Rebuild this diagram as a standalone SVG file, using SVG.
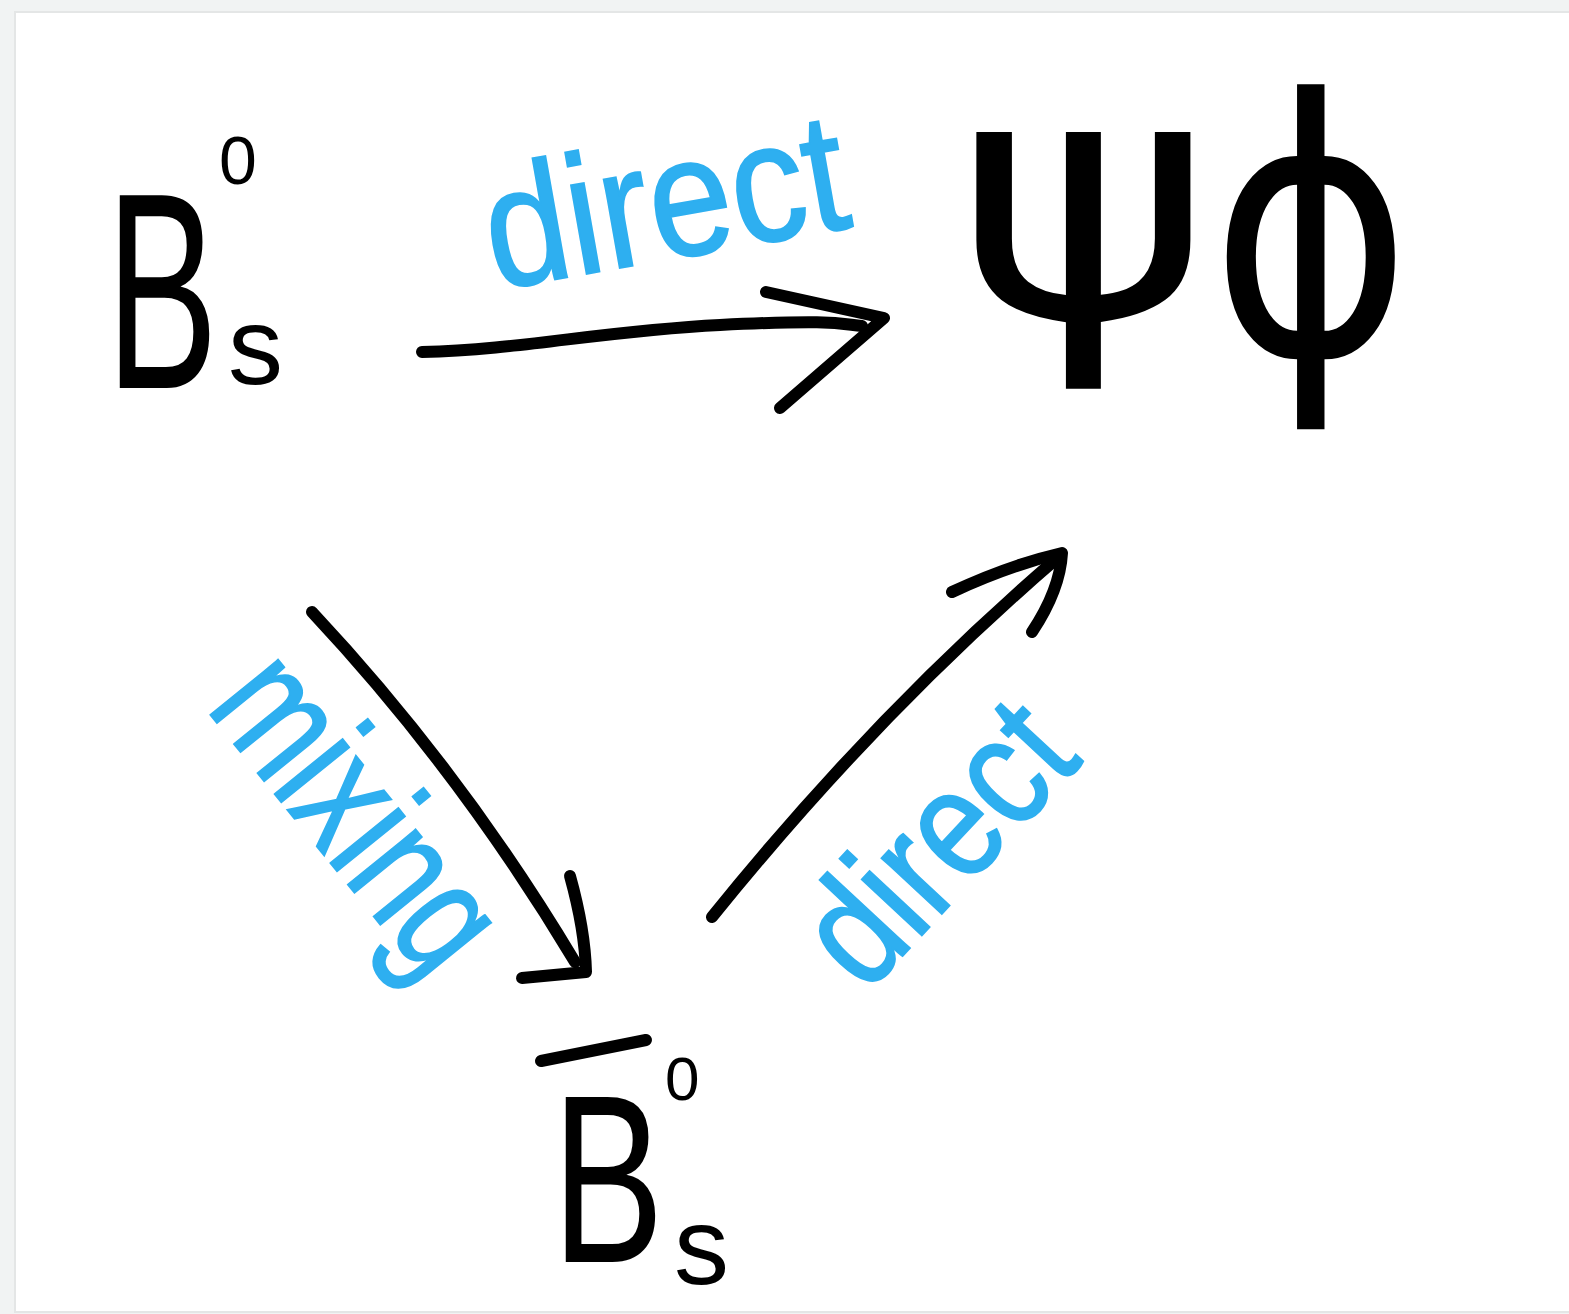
<svg xmlns="http://www.w3.org/2000/svg" width="1569" height="1314" viewBox="0 0 1569 1314">
  <defs>
    <style>
      .ink { fill: #000000; font-family: "Liberation Sans", "DejaVu Sans", sans-serif; }
      .greek { fill: #000000; font-family: "DejaVu Sans", "Liberation Sans", sans-serif; }
      .lbl { fill: #2eaff0; stroke: #2eaff0; stroke-width: 2; font-family: "Liberation Sans", "DejaVu Sans", sans-serif; }
      .stroke { fill: none; stroke: #000000; stroke-width: 12; stroke-linecap: round; stroke-linejoin: round; }
    </style>
  </defs>
  <rect x="0" y="0" width="1569" height="1314" fill="#f1f3f3"/>
  <rect x="14" y="11" width="1570" height="1302" fill="#e4e6e6"/>
  <rect x="16" y="13" width="1570" height="1298" fill="#ffffff"/>

  <g id="node-Bs0">
    <text class="ink" font-size="280" transform="translate(106 388) scale(0.6 1)">B</text>
    <text class="ink" x="219" y="184" font-size="68">0</text>
    <text class="ink" x="228" y="384" font-size="110">s</text>
  </g>

  <g id="node-psiphi">
    <text class="greek" font-size="340" transform="translate(955 318) scale(1.15 1)">ψ</text>
    <text class="greek" font-size="330" transform="translate(1210 355) scale(0.93 1.08)">ϕ</text>
  </g>

  <g id="node-Bsbar0">
    <path class="stroke" d="M541,1061 L646,1040" stroke-width="10"/>
    <text class="ink" font-size="240" transform="translate(552 1262) scale(0.7 1)">B</text>
    <text class="ink" x="665" y="1100" font-size="62">0</text>
    <text class="ink" x="674" y="1284" font-size="110">s</text>
  </g>

  <g id="connectors">
    <g id="edge-direct-top">
      <path class="stroke" d="M422,352 C520,350 600,331 720,325 S840,324 862,326"/>
      <path class="stroke" d="M766,292 L884,318 L780,408"/>
    </g>
    <g id="edge-mixing">
      <path class="stroke" d="M312,612 Q460,770 575,962"/>
      <path class="stroke" d="M570,876 Q585,930 586,972 L522,978"/>
    </g>
    <g id="edge-direct-right">
      <path class="stroke" d="M712,917 Q875,715 1055,560"/>
      <path class="stroke" d="M952,592 Q1010,565 1062,553 Q1060,590 1032,632"/>
    </g>
  </g>

  <g id="labels">
    <text class="lbl" x="495" y="290" font-size="170" textLength="365" lengthAdjust="spacingAndGlyphs" transform="rotate(-10 495 290)">direct</text>
    <text class="lbl" x="205" y="708" font-size="165" textLength="355" lengthAdjust="spacingAndGlyphs" transform="rotate(51 205 708)">mixing</text>
    <text class="lbl" x="866" y="995" font-size="155" textLength="320" lengthAdjust="spacingAndGlyphs" transform="rotate(-47 866 995)">direct</text>
  </g>
</svg>
